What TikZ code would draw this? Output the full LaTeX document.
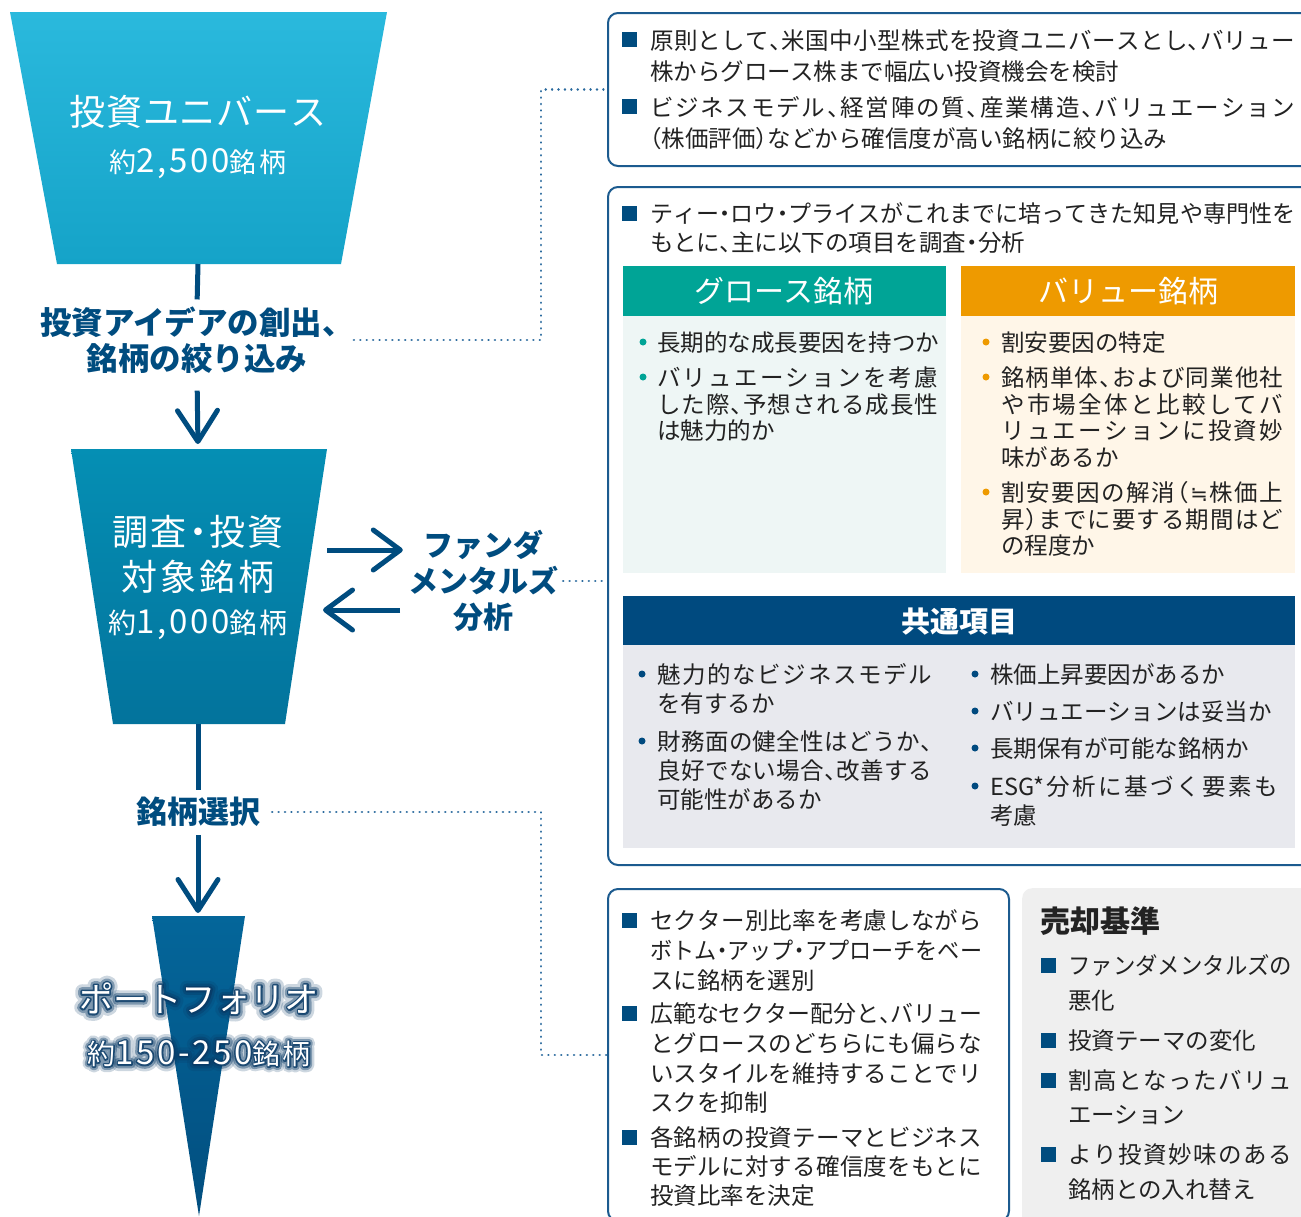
\documentclass[tikz,border=0pt]{standalone}
\usepackage{fontspec}
\usepackage{graphicx}
\setmainfont{Noto Sans CJK JP}
\newfontfamily\jph{Noto Sans CJK JP}[RawFeature=+halt]
\newfontfamily\djv{DejaVu Sans}
\newfontfamily\glowA{Noto Sans CJK JP}[FakeBold=40]
\newfontfamily\glowB{Noto Sans CJK JP}[FakeBold=24]
\newfontfamily\glowC{Noto Sans CJK JP}[FakeBold=10]
\usetikzlibrary{arrows.meta,calc}
\definecolor{dblue}{HTML}{004C7F}
\definecolor{bord}{HTML}{1C5B8F}
\definecolor{dotc}{HTML}{2A6A9E}
\definecolor{txt}{HTML}{222222}
\definecolor{gteal}{HTML}{00A496}
\definecolor{gorange}{HTML}{EE9A00}
\definecolor{gbody}{HTML}{EEF6F5}
\definecolor{vbody}{HTML}{FFF6E8}
\definecolor{chead}{HTML}{004A7F}
\definecolor{cbody}{HTML}{E8E9EE}
\definecolor{sgray}{HTML}{EFEFEF}
\definecolor{fAt}{HTML}{2AB9DD}
\definecolor{fAb}{HTML}{15A3C8}
\definecolor{fBt}{HTML}{058FB4}
\definecolor{fBb}{HTML}{03739C}
\definecolor{fCt}{HTML}{04669A}
\definecolor{fCb}{HTML}{024E7F}
\definecolor{glowc}{HTML}{083A66}
\newcommand\fsz[2]{\fontsize{#1}{#2}\selectfont}
\newcommand\nearlyeq{{\djv\fsz{21}{21}≒}}
\newcommand\esg{ESG*}
\newsavebox\jbox
\def\jusA#1{#1\jusB}
\def\jusB#1{\ifx\relax#1\else\hfil#1\expandafter\jusB\fi}
\newcommand\jus[2]{%
  \sbox\jbox{\jusA#2\relax}%
  \ifdim\wd\jbox>#1\relax
    \pgfmathsetmacro\jr{#1/\wd\jbox}\scalebox{\jr}[1]{\usebox\jbox}%
  \else
    \makebox[#1][s]{\jusA#2\relax}%
  \fi}
\tikzset{
  tl/.style={anchor=base west, inner sep=0pt, text=txt, font=\jph\fsz{23.5}{28}},
  wt/.style={anchor=base, inner sep=0pt, text=white},
  lab/.style={text=dblue, font=\bfseries\fsz{31.5}{36}, align=center, inner sep=0pt},
  sq/.style={rectangle, fill=dblue, minimum size=15pt, inner sep=0pt, outer sep=0pt},
  dotb/.style={circle, fill=#1, minimum size=7pt, inner sep=0pt},
  conn/.style={draw=dblue, line width=5pt},
  arrv/.style={conn, -{Straight Barb[length=31pt, width=40pt, round]}},
  arrh/.style={conn, -{Straight Barb[length=27pt, width=40pt, round]}},
  dots/.style={draw=dotc, line width=2.6pt, line cap=round, dash pattern=on 0.01pt off 6.4pt},
  boxst/.style={rectangle, draw=bord, line width=2pt, rounded corners=10pt, anchor=north west, inner sep=0pt},
  panel/.style={rectangle, fill=#1, anchor=north west, inner sep=0pt, outer sep=0pt},
}
\begin{document}
\begin{tikzpicture}[x=1pt,y=-1pt]
\useasboundingbox (0,0) rectangle (1301,1216);
\clip (0,0) rectangle (1301,1216);
\fill[white] (0,0) rectangle (1301,1216);

% ---------- funnels ----------
\shade[top color=fAt, bottom color=fAb] (10,12) -- (387,12) -- (341,264) -- (57,264) -- cycle;
\shade[top color=fBt, bottom color=fBb] (71,449) -- (327,449) -- (285,724) -- (113,724) -- cycle;
\shade[top color=fCt, bottom color=fCb] (152,916) -- (245,916) -- (199,1216) -- cycle;
\coordinate (f1b) at (198,264);
\coordinate (f2t) at (198,449);
\coordinate (f2b) at (198,724);
\coordinate (f3t) at (198,916);

\node[wt, font=\fsz{36}{36}] (ft1) at (198,125.7) {\jus{257pt}{投資ユニバース}};
\node[wt, font=\fsz{27}{27}\addfontfeature{LetterSpace=8}] (ft2) at (198,172.3) {約{\fsz{33}{33}2,500}銘柄};
\node[wt, font=\jph\fsz{36}{36}] (ft3) at (198,545) {\jus{172pt}{調査・投資}};
\node[wt, font=\fsz{36}{36}] (ft4) at (198,590.5) {\jus{153pt}{対象銘柄}};
\node[wt, font=\fsz{28}{28}\addfontfeature{LetterSpace=8}] (ft5) at (198,633.6) {約{\fsz{33}{33}1,000}銘柄};

\begin{scope}[line join=round, line cap=round]
\node[wt, text=glowc, opacity=0.2, font=\glowA\fsz{35}{35}] (ga1) at (199,1012.3) {\jus{240pt}{ポートフォリオ}};
\node[wt, text=glowc, opacity=0.2, font=\glowA\fsz{28}{28}\addfontfeature{LetterSpace=8}] (ga2) at (199,1064.4) {約{\fsz{33}{33}150-250}銘柄};
\node[wt, text=glowc, opacity=0.4, font=\glowB\fsz{35}{35}] (gb1) at (199,1012.3) {\jus{240pt}{ポートフォリオ}};
\node[wt, text=glowc, opacity=0.4, font=\glowB\fsz{28}{28}\addfontfeature{LetterSpace=8}] (gb2) at (199,1064.4) {約{\fsz{33}{33}150-250}銘柄};
\node[wt, text=glowc, opacity=0.8, font=\glowC\fsz{35}{35}] (gc1) at (199,1012.3) {\jus{240pt}{ポートフォリオ}};
\node[wt, text=glowc, opacity=0.8, font=\glowC\fsz{28}{28}\addfontfeature{LetterSpace=8}] (gc2) at (199,1064.4) {約{\fsz{33}{33}150-250}銘柄};
\end{scope}
\node[wt, font=\fsz{35}{35}] (pf1) at (199,1012.3) {\jus{240pt}{ポートフォリオ}};
\node[wt, font=\fsz{28}{28}\addfontfeature{LetterSpace=8}] (pf2) at (199,1064.4) {約{\fsz{33}{33}150-250}銘柄};

% ---------- labels ----------
\node[lab] (idea) at (197,340) {投資アイデアの創出、\\銘柄の絞り込み};
\node[lab, font=\bfseries\fsz{31}{36}, inner xsep=12pt] (sel) at (198,812) {銘柄選択};
\node[lab, font=\bfseries\fsz{30}{36}, inner xsep=5pt] (fund) at (483,581) {ファンダ\\メンタルズ\\分析};

% ---------- connectors ----------
\draw[conn, shorten >=7pt] (f1b) -- (idea.north);
\draw[arrv, shorten <=17pt, shorten >=5pt] (idea.south) -- (f2t);
\draw[conn, shorten >=7pt] (f2b) -- (sel.north);
\draw[arrv, shorten <=8pt, shorten >=3pt] (sel.south) -- (f3t);
\coordinate (ra1) at (327,550);
\coordinate (la1) at (400,610);
\coordinate (la2) at (323,610);
\draw[arrh] (ra1) -- (ra1 -| fund.west);
\draw[arrh] (la1) -- (la2);

% ---------- boxes ----------
\node[boxst, minimum width=713pt, minimum height=153pt] (box1) at (607,12) {};
\node[boxst, minimum width=713pt, minimum height=678pt] (box2) at (607,186) {};
\node[boxst, minimum width=401pt, minimum height=332pt] (box3) at (607,888) {};
\node[rectangle, fill=sgray, rounded corners=10pt, anchor=north west, inner sep=0pt, minimum width=300pt, minimum height=340pt] (box4) at (1022,888) {};

\coordinate (kx) at (541,0);
\draw[dots] (idea.east) -- (idea.east -| kx) |- (box1.west);
\draw[dots] (fund.east) -- (fund.east -| box2.west);
\draw[dots] (sel.east) -- (sel.east -| kx) |- (box3.west);

% ---------- box 1 ----------
\node[sq] (s1) at (629.5,39.5) {};
\node[sq] (s2) at (629.5,106.5) {};
\node[tl] (b1a) at (650,49) {\jus{645pt}{原則として、米国中小型株式を投資ユニバースとし、バリュー}};
\node[tl] (b1b) at (650,80) {株からグロース株まで幅広い投資機会を検討};
\node[tl] (b1c) at (650,116) {\jus{645pt}{ビジネスモデル、経営陣の質、産業構造、バリュエーション}};
\node[tl] (b1d) at (650,147) {（株価評価）などから確信度が高い銘柄に絞り込み};

% ---------- box 2 ----------
\node[sq] (s3) at (629.5,213) {};
\node[tl] (b2a) at (650,222) {\jus{645pt}{ティー・ロウ・プライスがこれまでに培ってきた知見や専門性を}};
\node[tl] (b2b) at (650,251) {もとに、主に以下の項目を調査・分析};

\node[panel=gteal, minimum width=323pt, minimum height=50pt] (gh) at (623,266) {};
\node[panel=gorange, minimum width=334pt, minimum height=50pt] (vh) at (961,266) {};
\node[panel=gbody, minimum width=323pt, minimum height=257pt] (gb) at (623,316) {};
\node[panel=vbody, minimum width=334pt, minimum height=257pt] (vb) at (961,316) {};
\node[wt, font=\fsz{30}{30}] (ght) at (784,302.4) {グロース銘柄};
\node[wt, font=\fsz{30}{30}] (vht) at (1128,302.4) {バリュー銘柄};

\node[dotb=gteal] (gd1) at (643,342) {};
\node[dotb=gteal] (gd2) at (643,377) {};
\node[tl] (g1) at (657,351) {長期的な成長要因を持つか};
\node[tl] (g2) at (657,386) {\jus{281pt}{バリュエーションを考慮}};
\node[tl] (g3) at (657,413) {\jus{281pt}{した際、予想される成長性}};
\node[tl] (g4) at (657,439) {は魅力的か};

\node[dotb=gorange] (vd1) at (986,342) {};
\node[dotb=gorange] (vd2) at (986,377) {};
\node[dotb=gorange] (vd3) at (986,492) {};
\node[tl] (v1) at (1001,351) {割安要因の特定};
\node[tl] (v2) at (1001,386) {\jus{282pt}{銘柄単体、および同業他社}};
\node[tl] (v3) at (1001,413) {\jus{282pt}{や市場全体と比較してバ}};
\node[tl] (v4) at (1001,439) {\jus{282pt}{リュエーションに投資妙}};
\node[tl] (v5) at (1001,466) {味があるか};
\node[tl] (v6) at (1001,501) {\jus{282pt}{割安要因の解消（\nearlyeq 株価上}};
\node[tl] (v7) at (1001,528) {\jus{282pt}{昇）までに要する期間はど}};
\node[tl] (v8) at (1001,554) {の程度か};

\node[panel=chead, minimum width=672pt, minimum height=49pt] (ch) at (623,596) {};
\node[panel=cbody, minimum width=672pt, minimum height=203pt] (cb) at (623,645) {};
\node[wt, font=\bfseries\fsz{29}{29}] (cht) at (959,632) {共通項目};

\node[dotb=chead] (cd1) at (642,674) {};
\node[dotb=chead] (cd2) at (642,741) {};
\node[dotb=chead] (cd3) at (975,674) {};
\node[dotb=chead] (cd4) at (975,711) {};
\node[dotb=chead] (cd5) at (975,748) {};
\node[dotb=chead] (cd6) at (975,786) {};
\node[tl] (c1) at (657,683) {\jus{275pt}{魅力的なビジネスモデル}};
\node[tl] (c2) at (657,712) {を有するか};
\node[tl] (c3) at (657,750) {\jus{275pt}{財務面の健全性はどうか、}};
\node[tl] (c4) at (657,779) {\jus{275pt}{良好でない場合、改善する}};
\node[tl] (c5) at (657,808) {可能性があるか};
\node[tl] (c6) at (990,683) {株価上昇要因があるか};
\node[tl] (c7) at (990,720) {バリュエーションは妥当か};
\node[tl] (c8) at (990,757) {長期保有が可能な銘柄か};
\node[tl] (c9) at (990,795) {\jus{288pt}{\esg 分析に基づく要素も}};
\node[tl] (c10) at (990,824) {考慮};

% ---------- box 3 ----------
\node[sq] (s4) at (629.5,920) {};
\node[sq] (s5) at (629.5,1013) {};
\node[sq] (s6) at (629.5,1137) {};
\node[tl] (d1) at (650,929) {\jus{332pt}{セクター別比率を考慮しながら}};
\node[tl] (d2) at (650,959) {\jus{332pt}{ボトム・アップ・アプローチをベー}};
\node[tl] (d3) at (650,989) {スに銘柄を選別};
\node[tl] (d4) at (650,1022) {\jus{332pt}{広範なセクター配分と、バリュー}};
\node[tl] (d5) at (650,1052) {\jus{332pt}{とグロースのどちらにも偏らな}};
\node[tl] (d6) at (650,1082) {\jus{332pt}{いスタイルを維持することでリ}};
\node[tl] (d7) at (650,1111) {スクを抑制};
\node[tl] (d8) at (650,1146) {\jus{332pt}{各銘柄の投資テーマとビジネス}};
\node[tl] (d9) at (650,1175) {\jus{332pt}{モデルに対する確信度をもとに}};
\node[tl] (d10) at (650,1204) {投資比率を決定};

% ---------- box 4 ----------
\node[tl, font=\bfseries\fsz{30}{30}] (t4) at (1040,932) {売却基準};
\node[sq] (s7) at (1048.5,965) {};
\node[sq] (s8) at (1048.5,1040) {};
\node[sq] (s9) at (1048.5,1080) {};
\node[sq] (s10) at (1048.5,1154) {};
\node[tl] (e1) at (1068,974) {\jus{224pt}{ファンダメンタルズの}};
\node[tl] (e2) at (1068,1009) {悪化};
\node[tl] (e3) at (1068,1049) {投資テーマの変化};
\node[tl] (e4) at (1068,1089) {\jus{224pt}{割高となったバリュ}};
\node[tl] (e5) at (1068,1123) {エーション};
\node[tl] (e6) at (1068,1163) {\jus{224pt}{より投資妙味のある}};
\node[tl] (e7) at (1068,1198) {銘柄との入れ替え};
\end{tikzpicture}
\end{document}
